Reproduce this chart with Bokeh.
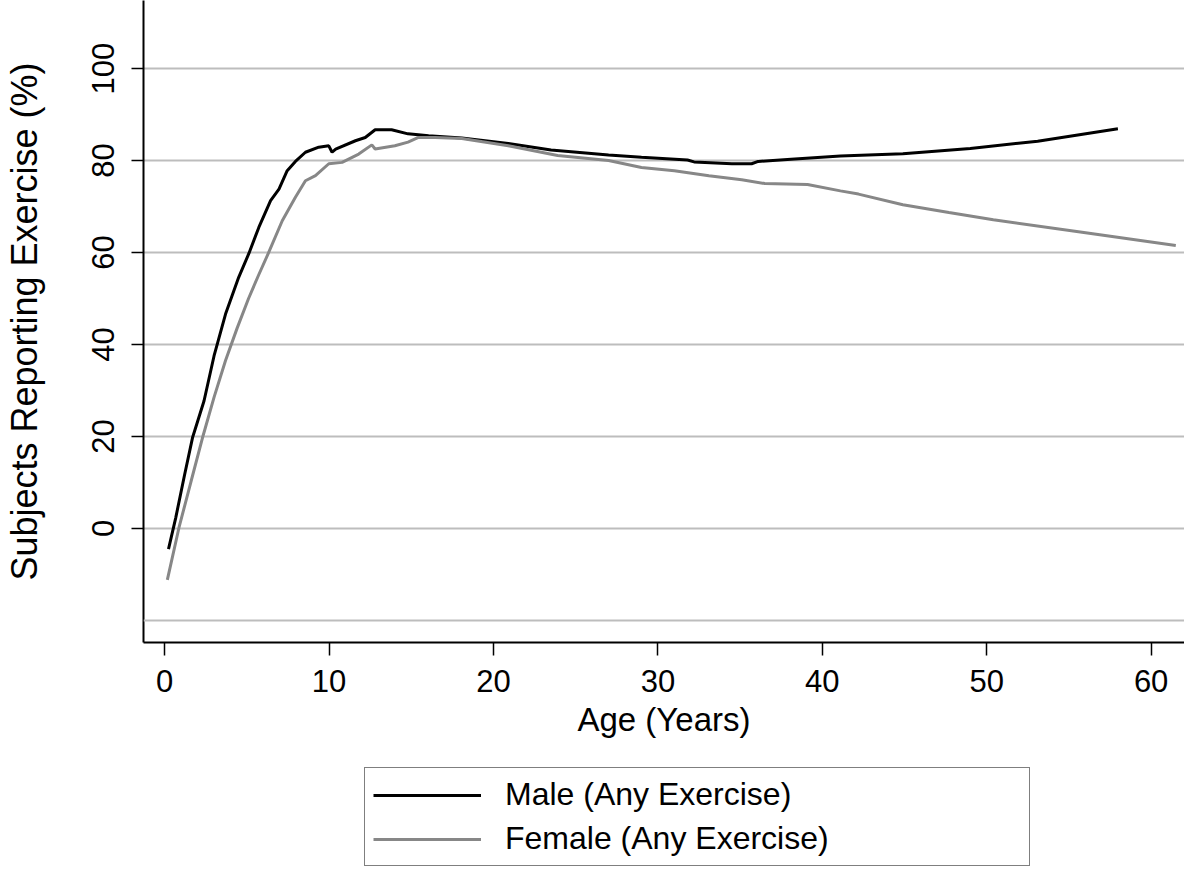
from bokeh.plotting import figure
from bokeh.layouts import column
from bokeh.models import Range1d, FixedTicker, LinearAxis, Legend, LegendItem, Span, Grid
from bokeh.embed import file_html
from bokeh.resources import INLINE

# ---- data ----
male_age = [0.23, 0.67, 1.2, 1.69, 2.39, 3.0, 3.7, 4.5, 5.12, 5.73, 6.44, 6.95, 7.45, 7.95,
            8.56, 9.37, 9.98, 10.18, 10.4, 11.6, 12.2, 12.8, 13.8, 14.8, 16.05, 18.07, 20.9,
            23.5, 27.0, 29.0, 31.8, 32.2, 34.5, 35.7, 36.1, 38.1, 41.1, 44.9, 49.0, 53.1, 57.98]
male_pct = [-4.5, 2.3, 11.5, 19.7, 27.7, 37.5, 46.6, 54.6, 59.8, 65.5, 71.3, 73.8, 77.8, 79.8,
            81.8, 82.9, 83.2, 81.8, 82.5, 84.3, 85.0, 86.7, 86.7, 85.8, 85.4, 84.9, 83.7,
            82.3, 81.2, 80.7, 80.1, 79.7, 79.3, 79.3, 79.8, 80.3, 81.0, 81.5, 82.6, 84.2, 86.9]

female_age = [0.16, 0.87, 1.6, 2.29, 3.0, 3.7, 4.4, 5.1, 5.7, 6.3, 7.15, 7.95, 8.56, 9.17,
              9.98, 10.79, 11.8, 12.6, 12.8, 14.0, 14.8, 15.4, 16.45, 18.07, 20.9, 23.9, 27.0,
              29.0, 31.0, 33.1, 35.1, 36.5, 39.1, 41.1, 42.2, 44.9, 47.7, 50.4, 55.8, 61.5]
female_pct = [-11.2, 0.2, 10.2, 19.6, 28.5, 36.5, 43.5, 50.0, 55.0, 59.8, 66.9, 72.0, 75.6, 76.7,
              79.3, 79.6, 81.4, 83.4, 82.5, 83.2, 84.0, 85.0, 85.0, 84.8, 83.2, 81.1, 80.0,
              78.5, 77.8, 76.7, 75.8, 75.0, 74.8, 73.4, 72.7, 70.4, 68.7, 67.1, 64.4, 61.5]

x_ticks = [0, 10, 20, 30, 40, 50, 60]
y_ticks = [0, 20, 40, 60, 80, 100]
extra_gridline = -20

series_labels = ["Male (Any Exercise)", "Female (Any Exercise)"]
series_colors = ["black", "#878787"]
x_title = "Age (Years)"
y_title = "Subjects Reporting Exercise (%)"

FONT = "Liberation Sans"
W = 1184

# ---------------- main chart ----------------
p = figure(width=W, height=760, output_backend="svg", toolbar_location=None,
           x_range=Range1d(-1.29, 62.03), y_range=Range1d(-24.81, 114.8),
           x_axis_type=None, y_axis_type=None,
           min_border_left=141, min_border_right=0, min_border_top=0, min_border_bottom=118)
p.outline_line_color = None
p.background_fill_color = "white"
p.border_fill_color = "white"

GRID_COLOR = "#bdbdbd"
p.add_layout(Grid(dimension=1, ticker=FixedTicker(ticks=y_ticks),
                  grid_line_color=GRID_COLOR, grid_line_width=2))
p.add_layout(Span(location=extra_gridline, dimension="width",
                  line_color=GRID_COLOR, line_width=2))

def style_axis(ax):
    ax.axis_line_color = "black"
    ax.axis_line_width = 2
    ax.major_tick_line_color = "black"
    ax.major_tick_line_width = 1.5
    ax.major_tick_in = 0
    ax.major_tick_out = 13
    ax.minor_tick_line_color = None
    ax.major_label_text_font = FONT
    ax.major_label_text_font_size = "31px"
    ax.major_label_text_color = "black"
    ax.axis_label_text_font = FONT
    ax.axis_label_text_font_style = "normal"
    ax.axis_label_text_color = "black"

xaxis = LinearAxis(ticker=FixedTicker(ticks=x_ticks), axis_label=x_title)
style_axis(xaxis)
xaxis.major_label_standoff = 14
xaxis.axis_label_standoff = 6
xaxis.axis_label_text_font_size = "33px"
p.add_layout(xaxis, "below")

yaxis = LinearAxis(ticker=FixedTicker(ticks=y_ticks), axis_label=y_title)
style_axis(yaxis)
yaxis.major_tick_out = 12
yaxis.major_label_orientation = "vertical"
yaxis.major_label_standoff = 17
yaxis.axis_label_standoff = 45
yaxis.axis_label_text_font_size = "36px"
p.add_layout(yaxis, "left")

p.line(male_age, male_pct, line_color=series_colors[0], line_width=3)
p.line(female_age, female_pct, line_color=series_colors[1], line_width=3)

# ---------------- legend strip below the chart ----------------
lf = figure(width=W, height=108, output_backend="svg", toolbar_location=None,
            x_range=Range1d(1000, 1001), y_range=Range1d(1000, 1001),
            x_axis_type=None, y_axis_type=None,
            min_border_left=0, min_border_right=0, min_border_top=0, min_border_bottom=0)
lf.outline_line_color = None
lf.grid.visible = False
lf.background_fill_color = "white"
lf.border_fill_color = "white"

lm = lf.line(male_age, male_pct, line_color=series_colors[0], line_width=3)
lfm = lf.line(female_age, female_pct, line_color=series_colors[1], line_width=3)

legend = Legend(items=[LegendItem(label=series_labels[0], renderers=[lm]),
                       LegendItem(label=series_labels[1], renderers=[lfm])],
                location=(221, 2), orientation="vertical", margin=0,
                padding=8, spacing=7, label_height=34, glyph_height=34,
                glyph_width=108, label_standoff=24, label_width=516,
                label_text_font=FONT, label_text_font_size="32px",
                label_text_color="black",
                border_line_color="black", border_line_width=1.5,
                background_fill_color="white", background_fill_alpha=1)
lf.add_layout(legend, "center")

open("out.html", "w").write(file_html(column(p, lf, spacing=0), INLINE))
